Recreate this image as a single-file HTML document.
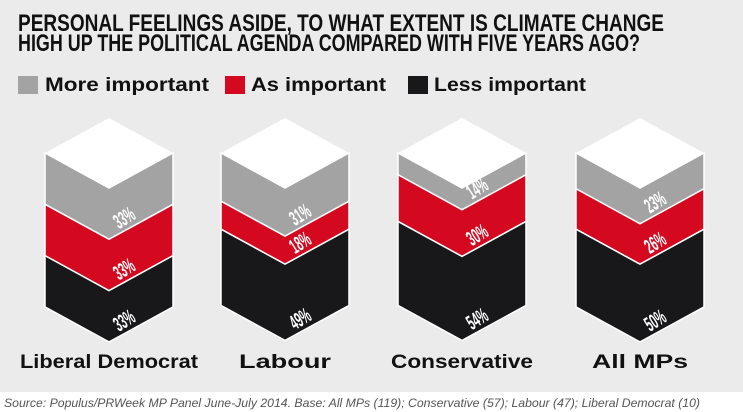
<!DOCTYPE html>
<html><head><meta charset="utf-8"><style>
body{margin:0;background:#fff}
svg{display:block;font-family:"Liberation Sans",sans-serif}
</style></head><body>
<svg id="chart" width="743" height="412" viewBox="0 0 743 412">
<rect x="0" y="0" width="743" height="392" fill="#ebebeb"/>
<rect x="0" y="392" width="743" height="20" fill="#ffffff"/>
<text x="18" y="31" font-size="24" font-weight="bold" fill="#111" textLength="646" lengthAdjust="spacingAndGlyphs">PERSONAL FEELINGS ASIDE, TO WHAT EXTENT IS CLIMATE CHANGE</text>
<text x="18" y="51" font-size="24" font-weight="bold" fill="#111" textLength="622" lengthAdjust="spacingAndGlyphs">HIGH UP THE POLITICAL AGENDA COMPARED WITH FIVE YEARS AGO?</text>
<g>
<rect x="18" y="76" width="20" height="18" fill="#a3a3a3"/>
<text x="45" y="91" font-size="19" font-weight="bold" fill="#111" textLength="164" lengthAdjust="spacingAndGlyphs">More important</text>
<rect x="225" y="76" width="20" height="18" fill="#d4091f"/>
<text x="251" y="91" font-size="19" font-weight="bold" fill="#111" textLength="135" lengthAdjust="spacingAndGlyphs">As important</text>
<rect x="408" y="76" width="20" height="18" fill="#18181b"/>
<text x="434" y="91" font-size="19" font-weight="bold" fill="#111" textLength="152" lengthAdjust="spacingAndGlyphs">Less important</text>
</g>
<g id="cols"></g>
<text x="4" y="407" font-size="12" font-style="italic" fill="#555" textLength="696" lengthAdjust="spacingAndGlyphs">Source: Populus/PRWeek MP Panel June-July 2014. Base: All MPs (119); Conservative (57); Labour (47); Liberal Democrat (10)</text>
</svg>
<script>
const categories = ["Liberal Democrat", "Labour", "Conservative", "All MPs"];
const moreImportant = [33, 31, 14, 23];
const asImportant = [33, 18, 30, 26];
const lessImportant = [33, 49, 54, 50];

const NS = "http://www.w3.org/2000/svg";
const g = document.getElementById("cols");
const centers = [109, 285, 462, 640];
const half = 64, dip = 35, top0 = 153, perPct = 1.555;
const colors = ["#a3a3a3", "#d4091f", "#18181b"];
const segNames = ["more", "as", "less"];
const labelW = [178, 92, 142, 96];

function chevron(cx, y1, y2) {
  return `M${cx-half},${y1} L${cx},${y1+dip} L${cx+half},${y1} L${cx+half},${y2} L${cx},${y2+dip} L${cx-half},${y2} Z`;
}
categories.forEach((cat, i) => {
  const cx = centers[i];
  const top = document.createElementNS(NS, "path");
  top.setAttribute("d", `M${cx},${top0-dip} L${cx+half},${top0} L${cx},${top0+dip} L${cx-half},${top0} Z`);
  top.setAttribute("fill", "#fff");
  
  
  g.appendChild(top);
  const vals = [moreImportant[i], asImportant[i], lessImportant[i]];
  let y = top0;
  vals.forEach((v, k) => {
    const y2 = y + v * perPct;
    const p = document.createElementNS(NS, "path");
    p.setAttribute("d", chevron(cx, y, y2));
    p.setAttribute("fill", colors[k]);
    p.setAttribute("stroke", "#fff");
    p.setAttribute("stroke-width", "1.5");
    
    
    g.appendChild(p);
    const t = document.createElementNS(NS, "text");
    const tx = cx + 10, ty = y2 + dip - 10;
    t.setAttribute("transform", `translate(${tx},${ty}) rotate(-32) scale(0.5,1)`);
    t.setAttribute("font-size", "21");
    t.setAttribute("font-weight", "bold");
    t.setAttribute("fill", "#fff");
    t.textContent = v + "%";
    
    
    g.appendChild(t);
    y = y2;
  });
  const lbl = document.createElementNS(NS, "text");
  lbl.setAttribute("x", cx);
  lbl.setAttribute("y", 368);
  lbl.setAttribute("text-anchor", "middle");
  lbl.setAttribute("font-size", "19");
  lbl.setAttribute("font-weight", "bold");
  lbl.setAttribute("fill", "#111");
  lbl.setAttribute("textLength", labelW[i]);
  lbl.setAttribute("lengthAdjust", "spacingAndGlyphs");
  lbl.textContent = cat;
  
  
  g.appendChild(lbl);
});
</script>
</body></html>
